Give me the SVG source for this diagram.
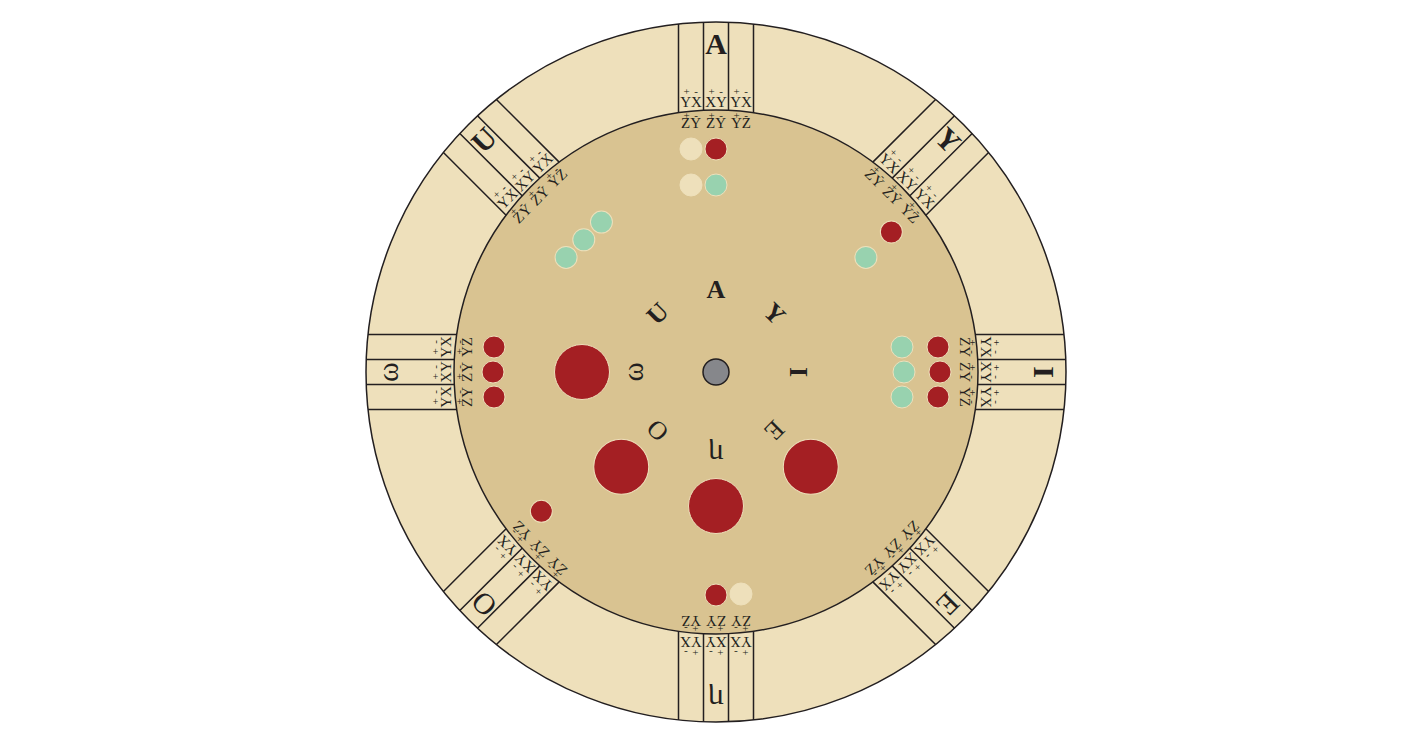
<svg xmlns="http://www.w3.org/2000/svg" xmlns:xlink="http://www.w3.org/1999/xlink" width="1428" height="749" viewBox="0 0 1428 749">
<style>
.ring{fill:#EEE0BB;stroke:#231F20;stroke-width:1.5}
.disc{fill:#D9C391;stroke:#231F20;stroke-width:1.5}
.div{fill:none;stroke:#231F20;stroke-width:1.5}
text{font-family:"Liberation Serif","DejaVu Serif",serif;fill:#231F20;text-anchor:middle}
.big{font-size:30px}
.mid{font-size:26px}
.midl{font-size:29px}
.b{font-weight:bold}
.lab{font-size:15px}
.mk{font-size:11px}
.red{fill:#A41F23;stroke:#EEE0BB;stroke-width:1}
.grn{fill:#98D2AF;stroke:#EEE0BB;stroke-width:1}
.lt{fill:#EEE0BB;stroke:#EEE0BB;stroke-width:1}
</style>
<defs>
<g id="strips">
<path class="div" d="M-37.5,-347.99 L-37.5,-259.3 M-12.5,-349.78 L-12.5,-261.7 M12.5,-349.78 L12.5,-261.7 M37.5,-347.99 L37.5,-259.3"/>
<text class="lab" x="-25" y="-265">YX</text>
<text class="lab" x="0" y="-265">XY</text>
<text class="lab" x="25" y="-265">YX</text>
<text class="lab" x="-25" y="-244">ZY</text>
<text class="lab" x="0" y="-244">ZY</text>
<text class="lab" x="25" y="-244">YZ</text>
<text class="mk" x="-29.5" y="-277">+</text><text class="mk" x="-20" y="-277">-</text>
<text class="mk" x="-4.5" y="-277">+</text><text class="mk" x="5" y="-277">-</text>
<text class="mk" x="20.5" y="-277">+</text><text class="mk" x="30" y="-277">-</text>
<text class="mk" x="-29.5" y="-253">+</text><text class="mk" x="-20" y="-253">-</text>
<text class="mk" x="-4.5" y="-253">+</text><text class="mk" x="5" y="-253">-</text>
<text class="mk" x="20.5" y="-253">+</text><text class="mk" x="30" y="-253">-</text>
</g>
</defs>
<circle class="ring" cx="716" cy="372" r="350"/>
<circle class="disc" cx="716" cy="372" r="262"/>

<g id="sector-A" transform="translate(716 372) rotate(0)">
<use xlink:href="#strips" href="#strips"/>
<text class="big b" x="0" y="-318">A</text>
<text class="mid b" x="0" y="-74">A</text>
<circle class="lt" cx="-25" cy="-223" r="11"/>
<circle class="red" cx="0" cy="-223" r="11"/>
<circle class="lt" cx="-25" cy="-187" r="11"/>
<circle class="grn" cx="0" cy="-187" r="11"/>
</g>

<g id="sector-Y" transform="translate(716 372) rotate(45)">
<use xlink:href="#strips" href="#strips"/>
<text class="big b" x="0" y="-318">Y</text>
<text class="mid b" x="0" y="-74">Y</text>
<circle class="red" cx="25" cy="-223" r="11"/>
<circle class="grn" cx="25" cy="-187" r="11"/>
</g>

<g id="sector-I" transform="translate(716 372) rotate(90)">
<use xlink:href="#strips" href="#strips"/>
<text class="big b" x="0" y="-318">I</text>
<text class="mid b" x="0" y="-74">I</text>
<circle class="red" cx="-25" cy="-222" r="11"/>
<circle class="red" cx="0" cy="-224" r="11"/>
<circle class="red" cx="25" cy="-222" r="11"/>
<circle class="grn" cx="-25" cy="-186" r="11"/>
<circle class="grn" cx="0" cy="-188" r="11"/>
<circle class="grn" cx="25" cy="-186" r="11"/>
</g>

<g id="sector-E" transform="translate(716 372) rotate(135)">
<use xlink:href="#strips" href="#strips"/>
<text class="big" x="0" y="-318">E</text>
<text class="mid" x="0" y="-74">E</text>
<circle class="red" cx="0" cy="-134" r="27.5"/>
</g>

<g id="sector-eta" transform="translate(716 372) rotate(180)">
<use xlink:href="#strips" href="#strips"/>
<text class="big" x="0" y="-318">η</text>
<text class="midl" x="0" y="-73">η</text>
<circle class="red" cx="0" cy="-134" r="27.5"/>
<circle class="red" cx="0" cy="-223" r="11"/>
<circle class="lt" cx="-25" cy="-222" r="11"/>
</g>

<g id="sector-O" transform="translate(716 372) rotate(225)">
<use xlink:href="#strips" href="#strips"/>
<text class="big" x="0" y="-318">O</text>
<text class="mid" x="0" y="-74">O</text>
<circle class="red" cx="0" cy="-134" r="27.5"/>
<circle class="red" cx="25" cy="-222" r="11"/>
</g>

<g id="sector-omega" transform="translate(716 372) rotate(270)">
<use xlink:href="#strips" href="#strips"/>
<text class="big" x="0" y="-318">ω</text>
<text class="midl" x="0" y="-73">ω</text>
<circle class="red" cx="0" cy="-134" r="27.5"/>
<circle class="red" cx="-25" cy="-222" r="11"/>
<circle class="red" cx="0" cy="-223" r="11"/>
<circle class="red" cx="25" cy="-222" r="11"/>
</g>

<g id="sector-U" transform="translate(716 372) rotate(315)">
<use xlink:href="#strips" href="#strips"/>
<text class="big b" x="0" y="-318">U</text>
<text class="mid b" x="0" y="-74">U</text>
<circle class="grn" cx="-25" cy="-187" r="11"/>
<circle class="grn" cx="0" cy="-187" r="11"/>
<circle class="grn" cx="25" cy="-187" r="11"/>
</g>

<g id="hub">
<circle cx="716" cy="372" r="13" fill="#86878B" stroke="#231F20" stroke-width="1.5"/>
</g>
<g id="connectors"></g>
</svg>
